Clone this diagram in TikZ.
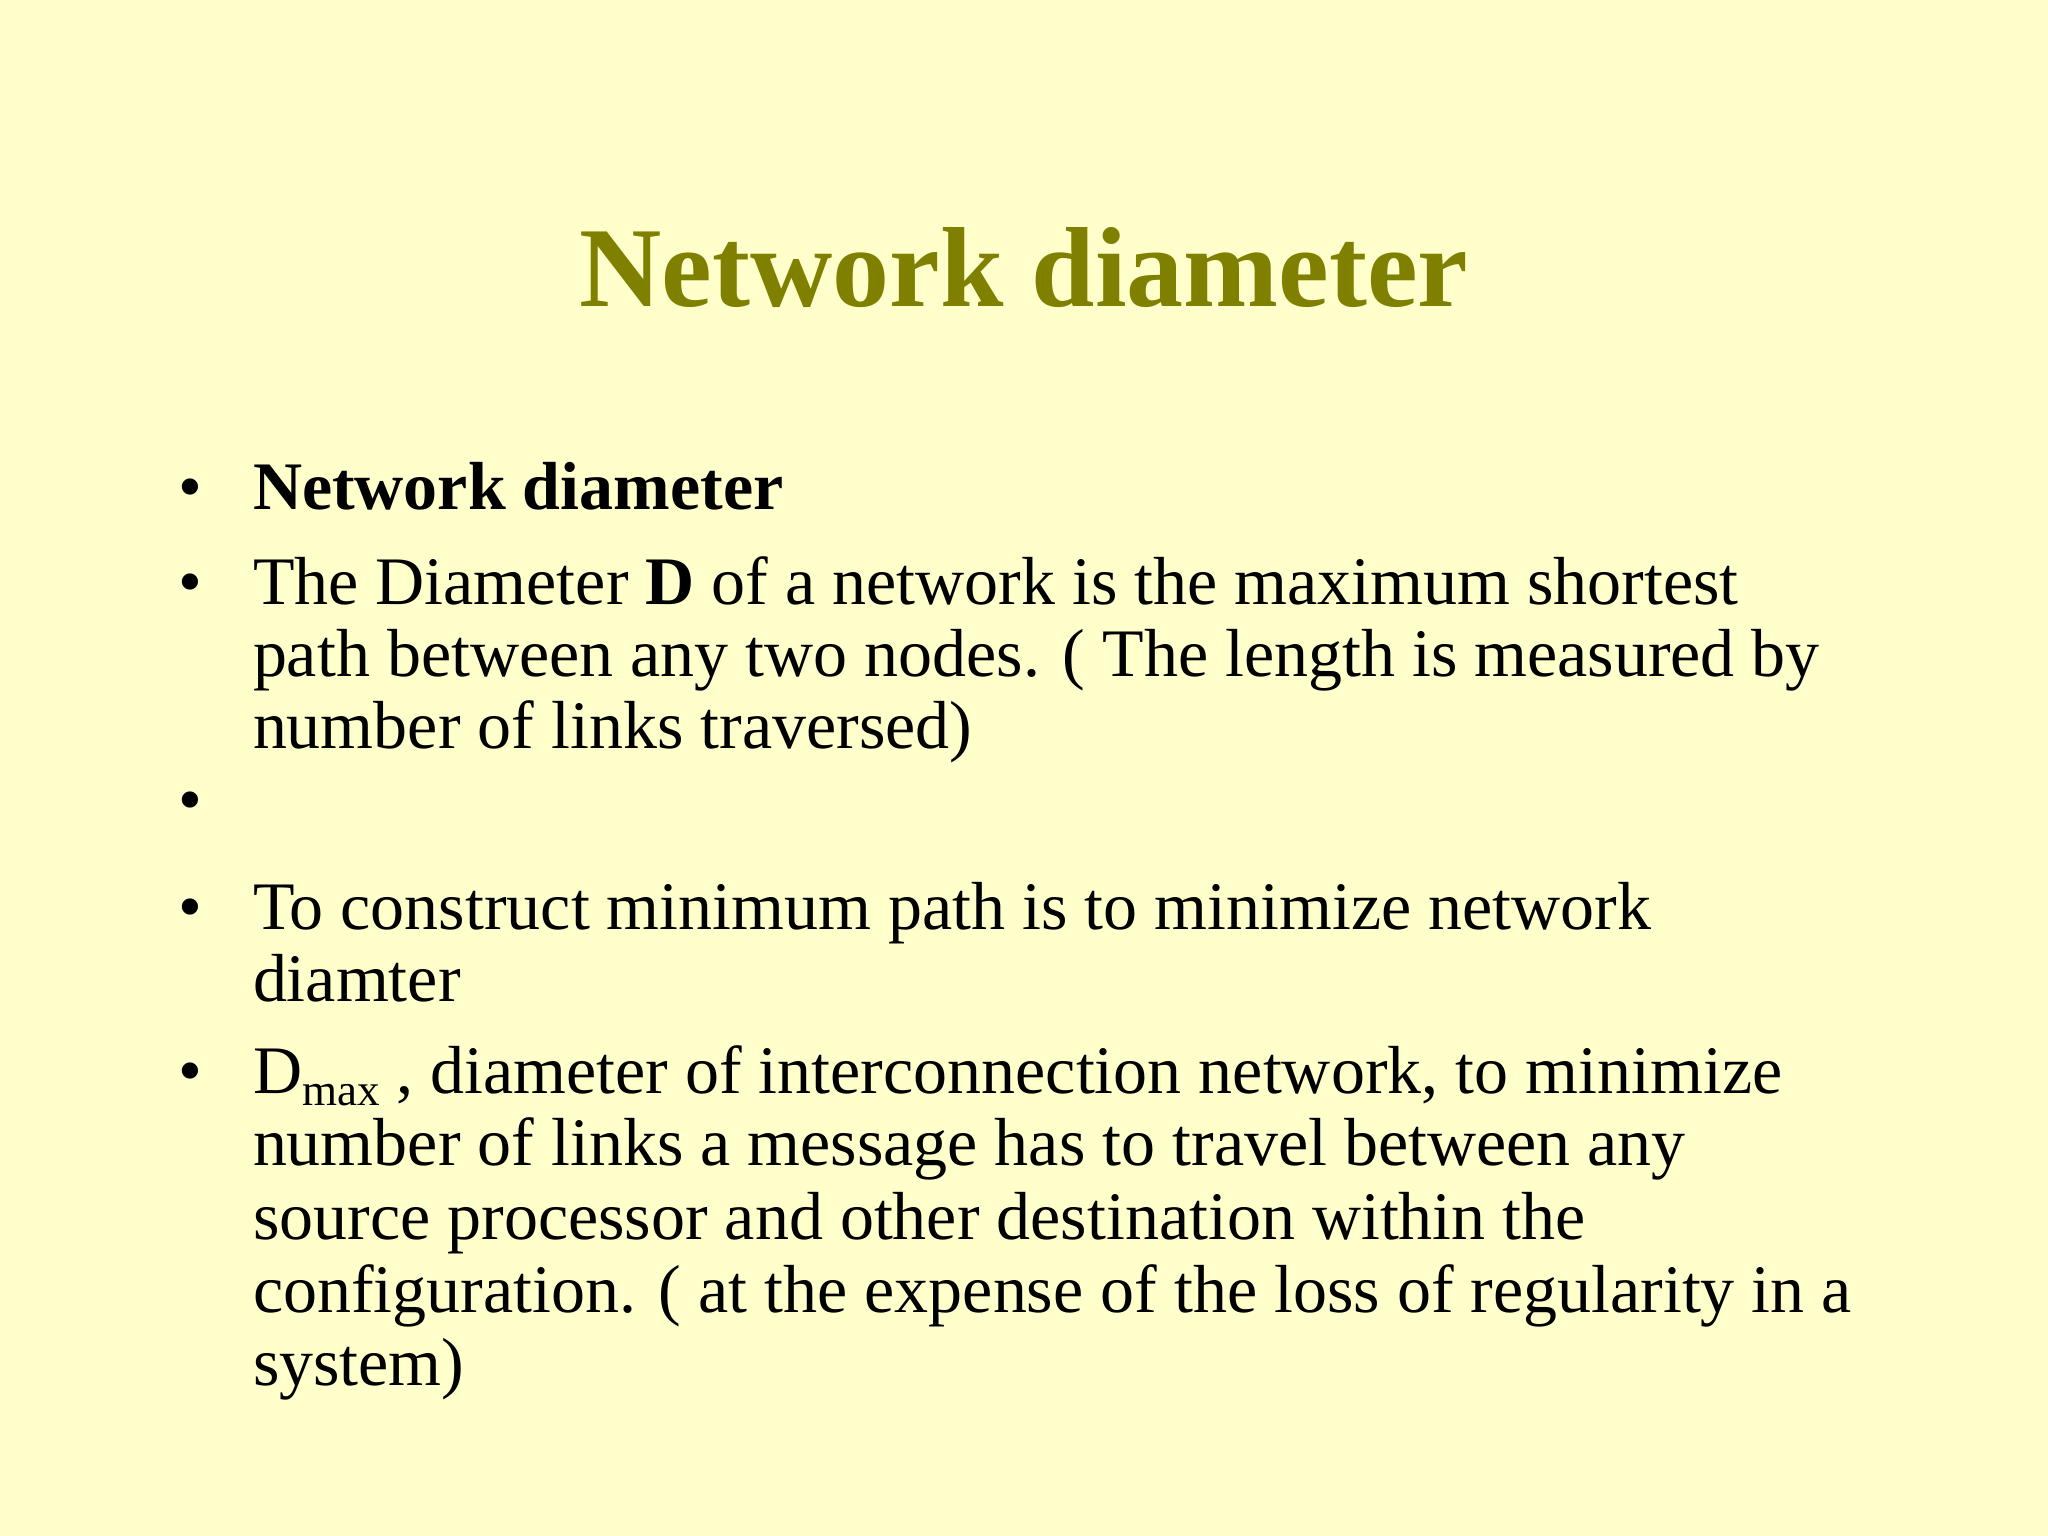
\documentclass[tikz,border=0pt]{standalone}
\usepackage{fontspec}
\setmainfont{Liberation Serif}
\definecolor{bg}{RGB}{255,255,204}
\definecolor{olive}{RGB}{128,128,0}
\tikzset{ln/.style={anchor=base west,inner sep=0pt,font=\fontsize{14.8}{17}\selectfont},
 bul/.style={anchor=base,inner sep=0pt,font=\fontsize{14.8}{17}\selectfont}}
\begin{document}
\begin{tikzpicture}[x=0.01cm,y=-0.01cm]
\useasboundingbox (0,0) rectangle (1568,1176);
\fill[bg] (0,0) rectangle (1568,1176);
\node[anchor=base,inner sep=0pt,text=olive,font=\fontsize{24.8}{28}\selectfont\bfseries] (title) at (784,235) {Network diameter};
\foreach \y in {390,463,630,712,837} \node[bul] at (146,\y) {•};
\node[ln] (l1) at (193,390) {\textbf{Network diameter}};
\node[ln] (l2) at (193,463) {The Diameter \textbf{D} of a network is the maximum shortest};
\node[ln] (l3) at (193,518) {path between any two nodes. ( The length is measured by};
\node[ln] (l4) at (193,573) {number of links traversed)};
\node[ln] (l5) at (193,712) {To construct minimum path is to minimize network};
\node[ln] (l6) at (193,767) {diamter};
\node[ln] (l7) at (193,837) {D\raisebox{-0.4ex}{\fontsize{9.8}{11}\selectfont max} , diameter of interconnection network, to minimize};
\node[ln] (l8) at (193,892) {number of links a message has to travel between any};
\node[ln] (l9) at (193,949) {source processor and other destination within the};
\node[ln] (l10) at (193,1005) {configuration. ( at the expense of the loss of regularity in a};
\node[ln] (l11) at (193,1061) {system)};
\end{tikzpicture}
\end{document}
